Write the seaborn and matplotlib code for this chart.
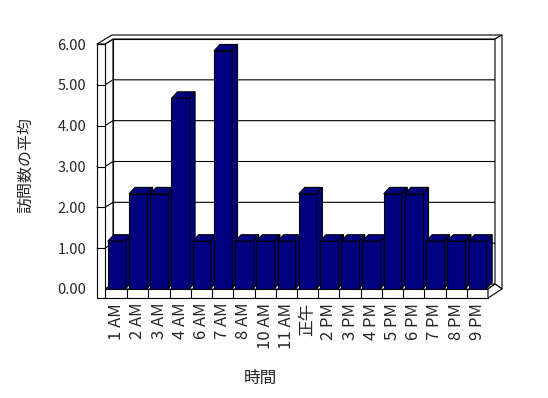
import matplotlib
matplotlib.use("Agg")
import matplotlib.pyplot as plt
import seaborn as sns
from matplotlib.patches import Polygon
from matplotlib.lines import Line2D
from matplotlib.transforms import IdentityTransform

# ---- data ----
hours = ["1 AM", "2 AM", "3 AM", "4 AM", "6 AM", "7 AM", "8 AM", "10 AM", "11 AM",
         "正午", "2 PM", "3 PM", "4 PM", "5 PM", "6 PM", "7 PM", "8 PM", "9 PM"]
avg_visits = [1.17, 2.33, 2.33, 4.67, 1.17, 5.83, 1.17, 1.17, 1.17,
              2.33, 1.17, 1.17, 1.17, 2.33, 2.33, 1.17, 1.17, 1.17]
y_ticks = [0, 1, 2, 3, 4, 5, 6]
y_tick_labels = ["0.00", "1.00", "2.00", "3.00", "4.00", "5.00", "6.00"]
x_title = "時間"
y_title = "訪問数の平均"

sns.set_theme(style="white")
plt.rcParams["font.family"] = ["Noto Sans CJK JP", "DejaVu Sans"]

W, H = 548, 398
fig = plt.figure(figsize=(W / 100, H / 100), dpi=100)
fig.patch.set_facecolor("white")
fx0, fx1, fy0, fy1 = 106, 488, 44, 289   # front plane (image px)
ax = fig.add_axes([fx0 / W, 1 - fy1 / H, (fx1 - fx0) / W, (fy1 - fy0) / H])
ax.patch.set_visible(False)

NAVY = "#000080"
sns.barplot(x=hours, y=avg_visits, color=NAVY, saturation=1, width=0.83,
            edgecolor="black", linewidth=0.8, ax=ax)
ax.set_xlim(-0.5, len(hours) - 0.5)
ax.set_ylim(0, 6)
for s in ax.spines.values():
    s.set_visible(False)
ax.grid(False)

ax.set_yticks(y_ticks)
ax.set_yticklabels(y_tick_labels, fontsize=10.5)
ax.tick_params(axis="y", length=0, pad=14.4)
ax.set_xticks(range(len(hours)))
ax.set_xticklabels(hours, rotation=90, fontsize=12, va="top")
ax.tick_params(axis="x", length=0, pad=10)

ax.set_xlabel(x_title, fontsize=12)
ax.xaxis.label.set_va("center")
ax.xaxis.set_label_coords((260 - fx0) / (fx1 - fx0), (fy1 - 378) / (fy1 - fy0))
ax.set_ylabel(y_title, fontsize=11.5)
ax.yaxis.label.set_va("center")
ax.yaxis.set_label_coords((26 - fx0) / (fx1 - fx0), (fy1 - 165) / (fy1 - fy0))

ID = IdentityTransform()


def d(x, y):
    return (x, H - y)


def poly(pts, fc="white", z=0.2):
    ax.add_patch(Polygon([d(*p) for p in pts], closed=True, facecolor=fc,
                         edgecolor="black", linewidth=0.8, transform=ID,
                         clip_on=False, zorder=z))


def line(pts, z=0.25):
    dp = [d(*p) for p in pts]
    ax.add_line(Line2D([p[0] for p in dp], [p[1] for p in dp], color="black",
                       linewidth=0.8, transform=ID, clip_on=False, zorder=z))


def yimg(v):
    return H - ax.transData.transform((0, v))[1]


def ximg(c):
    return ax.transData.transform((c, 0))[0]


# walls
din = (8, -5)
poly([(113, 39), (495, 39), (495, 284), (113, 284)], z=0.1)          # back wall
poly([(105, 44), (113, 39), (113, 284), (105, 289)], z=0.12)         # left inner face
poly([(105, 289), (113, 284), (495, 284), (488, 289)], z=0.12)       # floor top
poly([(97, 44), (112, 35), (502, 35), (495, 39), (113, 39), (105, 44)], z=0.2)  # top rim
poly([(495, 39), (502, 35), (502, 289), (495, 284)], z=0.2)          # right wall edge
poly([(105, 289), (488, 289), (488, 298), (105, 298)], z=0.3)        # floor front
poly([(488, 289), (488, 298), (502, 289), (495, 284)], z=0.3)        # floor right
poly([(97, 44), (105, 44), (105, 298), (97, 298)], z=0.3)            # left wall front

for v in y_ticks[1:]:
    yv = yimg(v)
    line([(97, yv), (105, yv), (113, yv + din[1]), (495, yv + din[1])], z=0.15)
    line([(97, yv), (105, yv)], z=0.35)

for k in range(1, len(hours)):
    xb = ximg(k - 0.5)
    line([(xb, 289), (xb, 298)], z=0.35)

# 3D faces of the bars
bdx, bdy = 6, 6.5
for i, p in enumerate(ax.patches[:len(hours)]):
    x0, y0 = ax.transData.transform((p.get_x(), 0))
    x1, y1 = ax.transData.transform((p.get_x() + p.get_width(), p.get_height()))
    z = 2 + i * 0.01
    for pts in ([(x1, y0), (x1, y1), (x1 + bdx, y1 + bdy), (x1 + bdx, y0 + bdy)],
                [(x0, y1), (x1, y1), (x1 + bdx, y1 + bdy), (x0 + bdx, y1 + bdy)]):
        ax.add_patch(Polygon(pts, closed=True, facecolor=NAVY, edgecolor="black",
                             linewidth=0.8, transform=ID, clip_on=False, zorder=z))
    p.set_zorder(z + 0.005)

fig.savefig("out.png", dpi=100)
